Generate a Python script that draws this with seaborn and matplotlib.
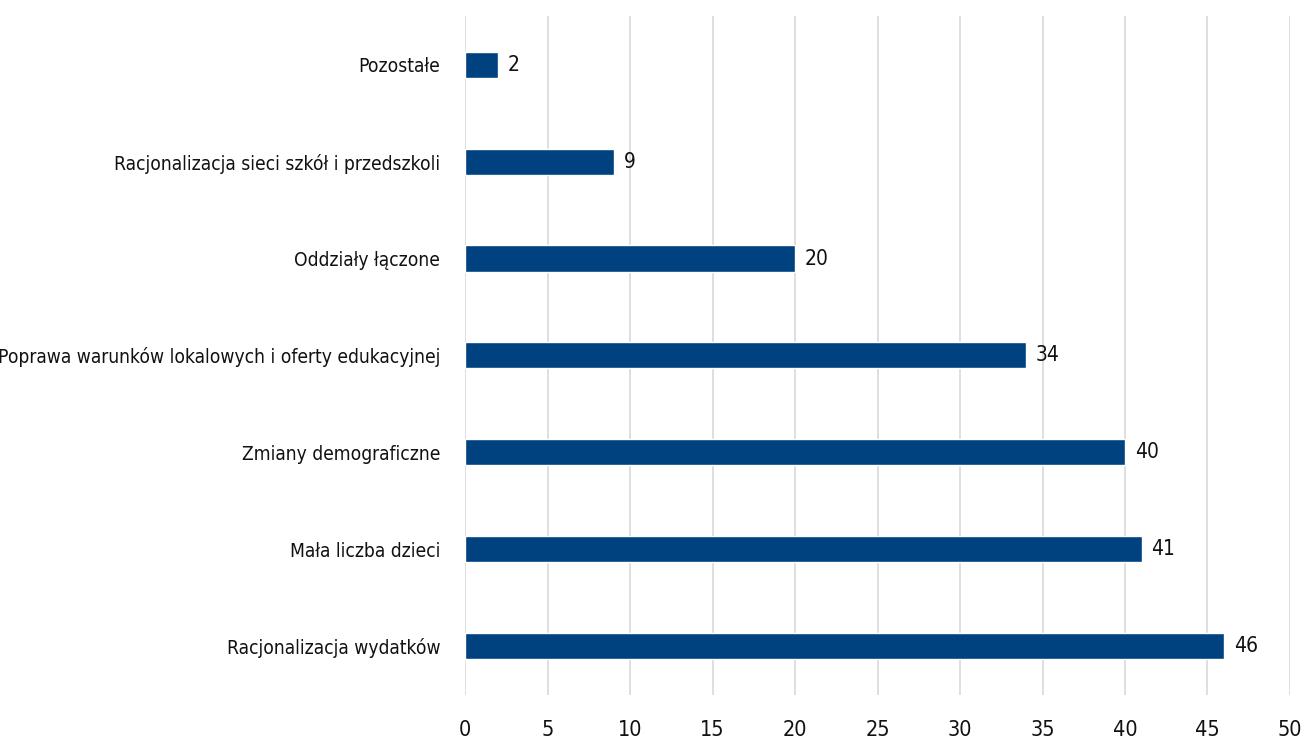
import matplotlib
matplotlib.use("Agg")
import matplotlib.pyplot as plt
import seaborn as sns
import pandas as pd

categories = [
    "Pozostałe",
    "Racjonalizacja sieci szkół i przedszkoli",
    "Oddziały łączone",
    "Poprawa warunków lokalowych i oferty edukacyjnej",
    "Zmiany demograficzne",
    "Mała liczba dzieci",
    "Racjonalizacja wydatków",
]
values = [2, 9, 20, 34, 40, 41, 46]
x_ticks = [0, 5, 10, 15, 20, 25, 30, 35, 40, 45, 50]

df = pd.DataFrame({"kategoria": categories, "liczba": values})

sns.set_theme(style="white")
plt.rcParams["font.family"] = ["DejaVu Sans"]
plt.rcParams["font.stretch"] = "condensed"

fig = plt.figure(figsize=(13.03, 7.42), dpi=100)
ax = fig.add_axes([0.357, 0.064, 0.633, 0.914])

sns.barplot(data=df, y="kategoria", x="liczba", color="#00417F", width=0.27,
            saturation=1, ax=ax, zorder=3)

for i, v in enumerate(values):
    ax.text(v + 0.6, i, str(v), va="center", ha="left", fontsize=15,
            color="#111111", fontstretch="condensed")

ax.set_xlim(0, 50)
ax.set_xticks(x_ticks)
ax.set_xticklabels([str(t) for t in x_ticks], fontsize=15.5, color="#111111",
                   fontstretch="condensed")
ax.set_yticks(range(len(categories)))
ax.set_yticklabels(categories, fontsize=13.8, color="#111111", fontstretch="condensed")
ax.tick_params(axis="y", length=0, pad=18)
ax.tick_params(axis="x", length=0, pad=18)
ax.grid(axis="x", color="#D9D9D9", linewidth=1.2, zorder=0)
ax.set_xlabel("")
ax.set_ylabel("")
for s in ax.spines.values():
    s.set_visible(False)

fig.savefig("out.png", dpi=100)
